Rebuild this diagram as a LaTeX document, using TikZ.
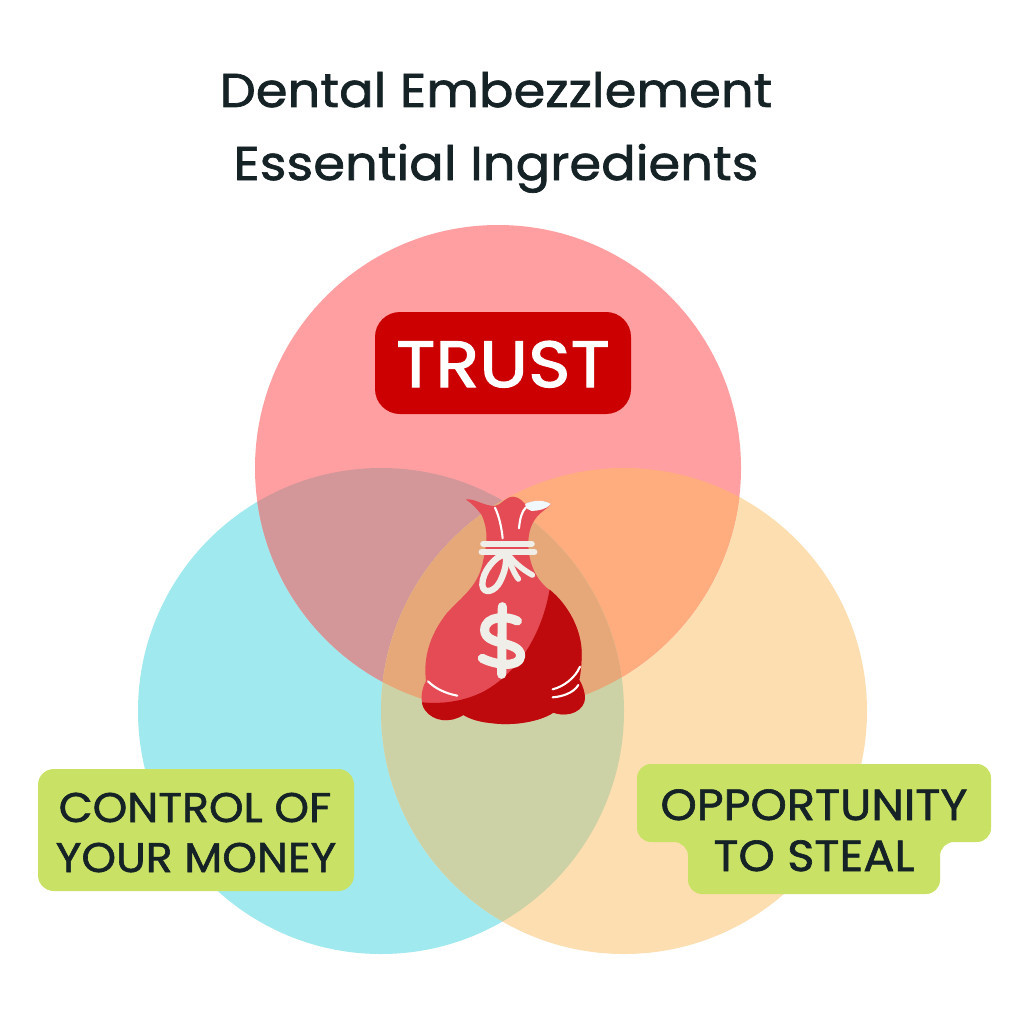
\documentclass[tikz,border=0pt]{standalone}
\usepackage{fontspec}
\setmainfont{Poppins}
\newfontfamily\titlefont{Poppins}[FakeBold=1.5,FakeStretch=1.075,LetterSpace=0.3]
\newfontfamily\labelfont{Poppins}[FakeBold=1.5,FakeStretch=1.06,LetterSpace=0.2]
\newfontfamily\trustfont{Poppins}[FakeBold=2.2,FakeStretch=1.1,LetterSpace=0.8]
\definecolor{ink}{HTML}{152226}
\definecolor{ctop}{HTML}{FF9FA1}
\definecolor{cleft}{HTML}{A0E9EE}
\definecolor{cright}{HTML}{FDDEB0}
\definecolor{otl}{HTML}{D49799}
\definecolor{otr}{HTML}{FFAC7F}
\definecolor{olr}{HTML}{CCD2A5}
\definecolor{oall}{HTML}{E6A779}
\definecolor{trustred}{HTML}{CC0000}
\definecolor{lime}{HTML}{C9E265}
\definecolor{baglight}{HTML}{E54B54}
\definecolor{bagdark}{HTML}{BE0A0C}
\definecolor{cream}{HTML}{F0EEE9}
\definecolor{flapwhite}{HTML}{F0F8FB}
\tikzset{
 px/.style={x=0.02cm,y=-0.02cm},
 titletext/.style={text=ink,anchor=base,inner sep=0,font=\titlefont\fontsize{27}{27}\selectfont},
 labeltext/.style={text=ink,anchor=base,inner sep=0,font=\labelfont\fontsize{23.6}{23.6}\selectfont},
 labeltextb/.style={text=ink,anchor=base,inner sep=0,font=\labelfont\fontsize{24.8}{24.8}\selectfont},
 trusttext/.style={text=white,anchor=base,inner sep=0,font=\trustfont\fontsize{37}{37}\selectfont},
 rope/.style={draw=cream,line cap=round,line join=round,line width=3.6pt,fill=none},
 crease/.style={draw=white,line cap=round,line width=1.2pt,fill=none},
}
\begin{document}
\begin{tikzpicture}[px]
\useasboundingbox (0,0) rectangle (1024,1024);
\fill[white] (0,0) rectangle (1024,1024);
% circles
\coordinate (T) at (498,468);
\coordinate (L) at (381,711);
\coordinate (R) at (624,711);
\def\rr{243}
\fill[cleft] (L) circle[radius=\rr];
\fill[cright] (R) circle[radius=\rr];
\fill[ctop] (T) circle[radius=\rr];
\begin{scope}
 \clip (T) circle[radius=\rr];
 \fill[otl] (L) circle[radius=\rr];
 \fill[otr] (R) circle[radius=\rr];
\end{scope}
\begin{scope}
 \clip (L) circle[radius=\rr];
 \fill[olr] (R) circle[radius=\rr];
 \clip (R) circle[radius=\rr];
 \fill[oall] (T) circle[radius=\rr];
\end{scope}
% title
\node[titletext] (t1) at (496,107) {Dental Embezzlement};
\node[titletext] (t2) at (496,180) {Essential Ingredients};
% trust
\fill[trustred,rounded corners=14.2pt] (375,312) rectangle (631,414);
\node[trusttext] (trust) at (503,387) {TRUST};
% left label
\fill[lime,rounded corners=9pt] (38,769) rectangle (354,891);
\node[labeltext] (c1) at (195,822) {CONTROL OF};
\node[labeltext] (c2) at (196,872) {YOUR MONEY};
% right label
\fill[lime,rounded corners=8pt] (637,764) -- (991,764) -- (991,842) -- (940,842) -- (940,894) -- (688,894) -- (688,842) -- (637,842) -- cycle;
\node[labeltextb] (o1) at (814,820) {OPPORTUNITY};
\node[labeltextb] (o2) at (814,871) {TO STEAL};
% bag
\begin{scope}[shift={(400,480)},x=0.02cm/3,y=-0.02cm/3]
 \def\bagpath{(197,58) .. controls (225,55) and (250,78) .. (285,78)
   .. controls (305,75) and (315,50) .. (340,50)
   .. controls (360,52) and (368,65) .. (375,72)
   .. controls (400,62) and (430,58) .. (453,72)
   .. controls (445,85) and (420,95) .. (405,118)
   .. controls (390,140) and (385,165) .. (385,190)
   .. controls (385,230) and (395,265) .. (415,295)
   .. controls (430,315) and (440,325) .. (450,330)
   .. controls (505,375) and (545,450) .. (545,520)
   .. controls (545,550) and (543,570) .. (538,600)
   .. controls (550,620) and (555,640) .. (555,655)
   .. controls (553,690) and (510,715) .. (460,698)
   .. controls (420,725) and (340,738) .. (280,730)
   .. controls (245,727) and (215,720) .. (190,705)
   .. controls (150,730) and (100,725) .. (75,690)
   .. controls (60,670) and (62,630) .. (78,603)
   .. controls (70,540) and (85,470) .. (140,400)
   .. controls (190,345) and (235,320) .. (250,240)
   .. controls (262,185) and (265,150) .. (245,105)
   .. controls (230,85) and (215,70) .. (197,58) -- cycle}
 \fill[baglight] \bagpath;
 \begin{scope}
  \clip \bagpath;
  \fill[bagdark] (449,328) .. controls (430,440) and (370,570) .. (250,635)
    .. controls (190,665) and (120,675) .. (50,665)
    -- (50,760) -- (600,760) -- (600,328) -- cycle;
 \end{scope}
 % flap highlight
 \fill[flapwhite] (375,72) .. controls (400,60) and (430,58) .. (453,72)
   .. controls (440,88) and (415,92) .. (395,93) .. controls (385,92) and (378,85) .. (375,72) -- cycle;
 % creases
 \draw[crease] (285,83) .. controls (298,110) and (305,145) .. (308,175);
 \draw[crease] (357,145) .. controls (360,115) and (365,95) .. (378,82);
 \draw[crease] (84,604) .. controls (105,625) and (135,640) .. (172,647);
 \draw[crease] (458,628) .. controls (490,620) and (525,595) .. (540,560);
 \draw[crease] (458,652) .. controls (485,650) and (520,640) .. (535,615);
 % rope
 \draw[rope] (250,191) -- (395,191);
 \draw[rope] (245,216) -- (403,216);
 \draw[rope] (312,225) .. controls (290,225) and (245,275) .. (247,315)
   .. controls (250,345) and (285,335) .. (300,305) .. controls (315,275) and (320,250) .. (318,225);
 \draw[rope,line width=3.2pt] (322,225) .. controls (330,250) and (342,280) .. (355,297);
 \draw[rope,line width=3.2pt] (325,225) .. controls (345,250) and (370,270) .. (397,285);
 % dollar
 \draw[rope,line width=5.2pt] (352,423) .. controls (325,408) and (255,405) .. (254,450)
   .. controls (254,500) and (362,480) .. (362,528)
   .. controls (360,565) and (285,555) .. (247,535);
 \draw[rope,line width=5.2pt] (307,380) -- (305,583);
\end{scope}
\end{tikzpicture}
\end{document}
